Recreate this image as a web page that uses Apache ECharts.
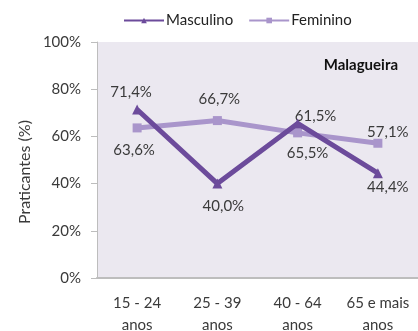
<!DOCTYPE html>
<html>
<head>
<meta charset="utf-8">
<script src="https://cdn.jsdelivr.net/npm/echarts@6/dist/echarts.min.js"></script>
<style>
  html, body { margin: 0; padding: 0; background: #ffffff; }
  #chart { width: 418px; height: 331px; }
</style>
</head>
<body>
<div id="chart"></div>
<script>
// Age groups along the x axis
const categories = ['15 - 24\nanos', '25 - 39\nanos', '40 - 64\nanos', '65 e mais\nanos'];
// Share of people practising sport, by sex (%)
const masculino = [71.4, 40.0, 65.5, 44.4];
const feminino = [63.6, 66.7, 61.5, 57.1];
const yTicks = [0, 20, 40, 60, 80, 100];

// Value-label nudges (px from each point) so the labels clear the lines
const masculinoLabelShift = [[-6, -17], [6, 23], [10, 30], [10, 14]];
const femininoLabelShift = [[-3, 22], [2, -21], [18, -17], [10, -11]];

const FONT = 'Lato, "Open Sans", sans-serif';
const TEXT = '#3a3a3a';
const fmt = v => v.toFixed(1).replace('.', ',') + '%';

function points(values, shifts) {
  return values.map((v, i) => ({
    value: v,
    label: { position: 'inside', offset: shifts[i] }
  }));
}

const chart = echarts.init(document.getElementById('chart'));
chart.setOption({
  animation: false,
  textStyle: { fontFamily: FONT },
  legend: {
    top: 8,
    left: 118,
    itemGap: 15,
    itemWidth: 40,
    itemHeight: 7,
    textStyle: { fontFamily: FONT, fontSize: 15, color: '#222', padding: [0, 0, 0, -3] },
    data: ['Masculino', 'Feminino']
  },
  title: {
    text: 'Malagueira',
    right: 15,
    top: 53,
    textStyle: { fontFamily: FONT, fontSize: 15, fontWeight: 'bold', color: '#111' }
  },
  // Rotated axis title, placed by hand so it sits a little below the plot's middle
  graphic: [{
    type: 'text',
    x: 25,
    y: 172,
    rotation: Math.PI / 2,
    style: {
      text: 'Praticantes (%)',
      fill: TEXT,
      font: '16px ' + FONT,
      align: 'center',
      verticalAlign: 'middle'
    }
  }],
  grid: {
    left: 97, right: 0, top: 42, bottom: 53,
    outerBoundsMode: 'none',
    outerBounds: { left: 0, right: 0, top: 0, bottom: -40 },
    show: true, backgroundColor: '#ebe8f0', borderWidth: 0
  },
  xAxis: {
    type: 'category',
    data: categories,
    axisLine: { lineStyle: { color: '#bdbdbd', width: 2 } },
    axisTick: { show: false },
    axisLabel: { color: TEXT, fontSize: 15, lineHeight: 22, margin: 14, interval: 0, fontFamily: FONT }
  },
  yAxis: {
    type: 'value',
    min: yTicks[0],
    max: yTicks[yTicks.length - 1],
    interval: 20,
    splitLine: { show: false },
    axisLine: { show: true, lineStyle: { color: '#bdbdbd', width: 1 } },
    axisTick: { show: true, length: 6, lineStyle: { color: '#bdbdbd' } },
    axisLabel: { color: TEXT, fontSize: 15, margin: 16, fontFamily: FONT, formatter: v => v + '%' }
  },
  series: [
    {
      name: 'Masculino',
      type: 'line',
      data: points(masculino, masculinoLabelShift),
      z: 3,
      symbol: 'triangle',
      symbolSize: 10,
      lineStyle: { color: '#6c4b9b', width: 5 },
      itemStyle: { color: '#6c4b9b' },
      label: { show: true, color: TEXT, fontSize: 15, fontFamily: FONT, formatter: p => fmt(p.value) }
    },
    {
      name: 'Feminino',
      type: 'line',
      data: points(feminino, femininoLabelShift),
      z: 2,
      symbol: 'rect',
      symbolSize: 9,
      lineStyle: { color: '#a995cb', width: 5 },
      itemStyle: { color: '#a995cb' },
      label: { show: true, color: TEXT, fontSize: 15, fontFamily: FONT, formatter: p => fmt(p.value) }
    }
  ]
});
</script>
</body>
</html>
